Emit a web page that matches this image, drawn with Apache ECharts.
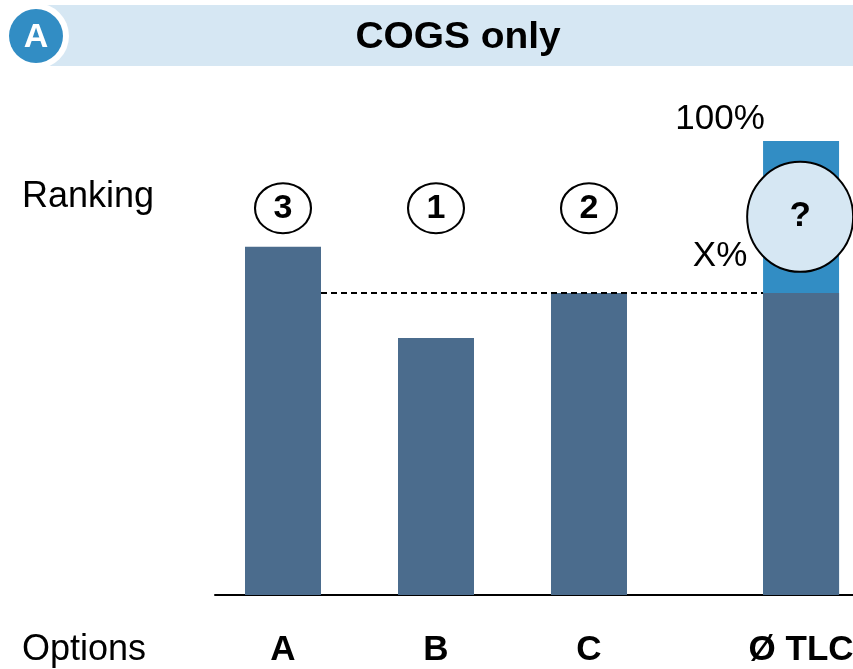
<!DOCTYPE html>
<html>
<head>
<meta charset="utf-8">
<script src="https://cdn.jsdelivr.net/npm/echarts@6/dist/echarts.min.js"></script>
<style>
html,body{margin:0;padding:0;background:#fff;}
#chart{width:853px;height:669px;}
</style>
</head>
<body>
<div id="chart"></div>
<script>
// ---- data ----
const categories = ['A', 'B', 'C', 'Ø TLC'];
const ranks = ['3', '1', '2'];
const unknownRank = '?';
const baseValues = [76.7, 56.6, 66.5, 66.5];   // % of TLC (TLC part = X%)
const tlcTotal = 100;                            // TLC full bar = 100%
const xLevel = 66.5;                            // X%
const rankLabel = 'Ranking';
const optionsLabel = 'Options';
const title = 'COGS only';
const topLabel = '100%';
const xLabel = 'X%';

// ---- layout ----
const slotPos = [1, 2, 3, 4.386];
const gridLeft = 215, gridTop = 141, gridBottom = 74, chartW = 853;
const pxPerUnit = 153;
const xMin = 1 - (283 - gridLeft) / pxPerUnit;
const xMax = xMin + (chartW - gridLeft) / pxPerUnit;
const barW = 76;
const halfW = barW / 2 / pxPerUnit;

const DARK = '#4B6C8D', BLUE = '#328DC4', LIGHT = '#D6E7F3';
const FONT = '"Liberation Sans", Arial, sans-serif';

const chart = echarts.init(document.getElementById('chart'), null, {renderer: 'canvas'});

const darkData = baseValues.map((v, i) => {
  const item = {value: [slotPos[i], v]};
  if (i === 3) {
    item.label = {show: true, position: 'top', offset: [-81, -14], formatter: xLabel,
      color: '#000', fontSize: 35, fontFamily: FONT};
  }
  return item;
});

const option = {
  animation: false,
  grid: {left: gridLeft, right: 0, top: gridTop, bottom: gridBottom, containLabel: false, outerBoundsMode: 'none'},
  xAxis: [{
    type: 'value', min: xMin, max: xMax,
    splitLine: {show: false},
    axisTick: {show: false},
    axisLine: {show: true, onZero: false, lineStyle: {color: '#000', width: 2}},
    axisLabel: {
      show: true, customValues: slotPos, margin: 38,
      formatter: (v) => { const i = slotPos.findIndex(p => Math.abs(p - v) < 1e-6); return i >= 0 ? categories[i] : ''; },
      color: '#000', fontSize: 35, fontWeight: 'bold', fontFamily: FONT
    }
  }, {
    type: 'value', min: xMin, max: xMax, show: false
  }],
  yAxis: {type: 'value', min: 0, max: 100, show: false},
  series: [
    {
      type: 'bar', xAxisIndex: 1, barWidth: barW,
      data: [{value: [slotPos[3], tlcTotal],
        label: {show: true, position: 'top', offset: [-81, 1], formatter: topLabel,
          color: '#000', fontSize: 35, fontFamily: FONT}}],
      itemStyle: {color: BLUE}, z: 1
    },
    {
      type: 'bar', xAxisIndex: 0, barWidth: barW, data: darkData,
      itemStyle: {color: DARK}, z: 2
    },
    {
      type: 'line', symbol: 'none', silent: true,
      data: [[slotPos[0] + halfW, xLevel], [slotPos[3] - halfW, xLevel]],
      lineStyle: {color: '#000', width: 2, type: [6, 4]}, z: 3
    },
    {
      type: 'scatter', symbol: 'circle', symbolSize: [56, 50],
      data: ranks.map((r, i) => ({value: [slotPos[i], 85.2], name: r})),
      itemStyle: {color: '#fff', borderColor: '#000', borderWidth: 2, opacity: 1},
      label: {show: true, position: 'inside', formatter: '{b}', color: '#000',
        fontSize: 34, fontWeight: 'bold', fontFamily: FONT},
      z: 4
    },
    {
      type: 'scatter', symbol: 'circle', symbolSize: [106, 110],
      data: [{value: [slotPos[3] - 0.006, 83.3], name: unknownRank}],
      itemStyle: {color: LIGHT, borderColor: '#000', borderWidth: 2, opacity: 1},
      label: {show: true, position: 'inside', formatter: '{b}', color: '#000',
        fontSize: 35, fontWeight: 'bold', fontFamily: FONT},
      clip: false,
      z: 5
    }
  ],
  graphic: [
    {type: 'rect', shape: {x: 45, y: 5, width: 808, height: 61}, style: {fill: LIGHT}, z: 1},
    {type: 'circle', shape: {cx: 36, cy: 36, r: 33}, style: {fill: '#fff'}, z: 2},
    {type: 'circle', shape: {cx: 36, cy: 36, r: 27}, style: {fill: BLUE}, z: 3},
    {type: 'text', x: 36, y: 38, z: 4, style: {text: 'A', fill: '#fff', font: 'bold 34px ' + FONT,
      textAlign: 'center', textVerticalAlign: 'middle'}},
    {type: 'text', x: 458, y: 38, z: 4, scaleX: 1.08, style: {text: title, fill: '#000', font: 'bold 36px ' + FONT,
      textAlign: 'center', textVerticalAlign: 'middle'}},
    {type: 'text', x: 22, y: 197, z: 4, style: {text: rankLabel, fill: '#000', font: '36px ' + FONT,
      textAlign: 'left', textVerticalAlign: 'middle'}},
    {type: 'text', x: 22, y: 650, z: 4, style: {text: optionsLabel, fill: '#000', font: '36px ' + FONT,
      textAlign: 'left', textVerticalAlign: 'middle'}}
  ]
};
chart.setOption(option);
</script>
</body>
</html>
